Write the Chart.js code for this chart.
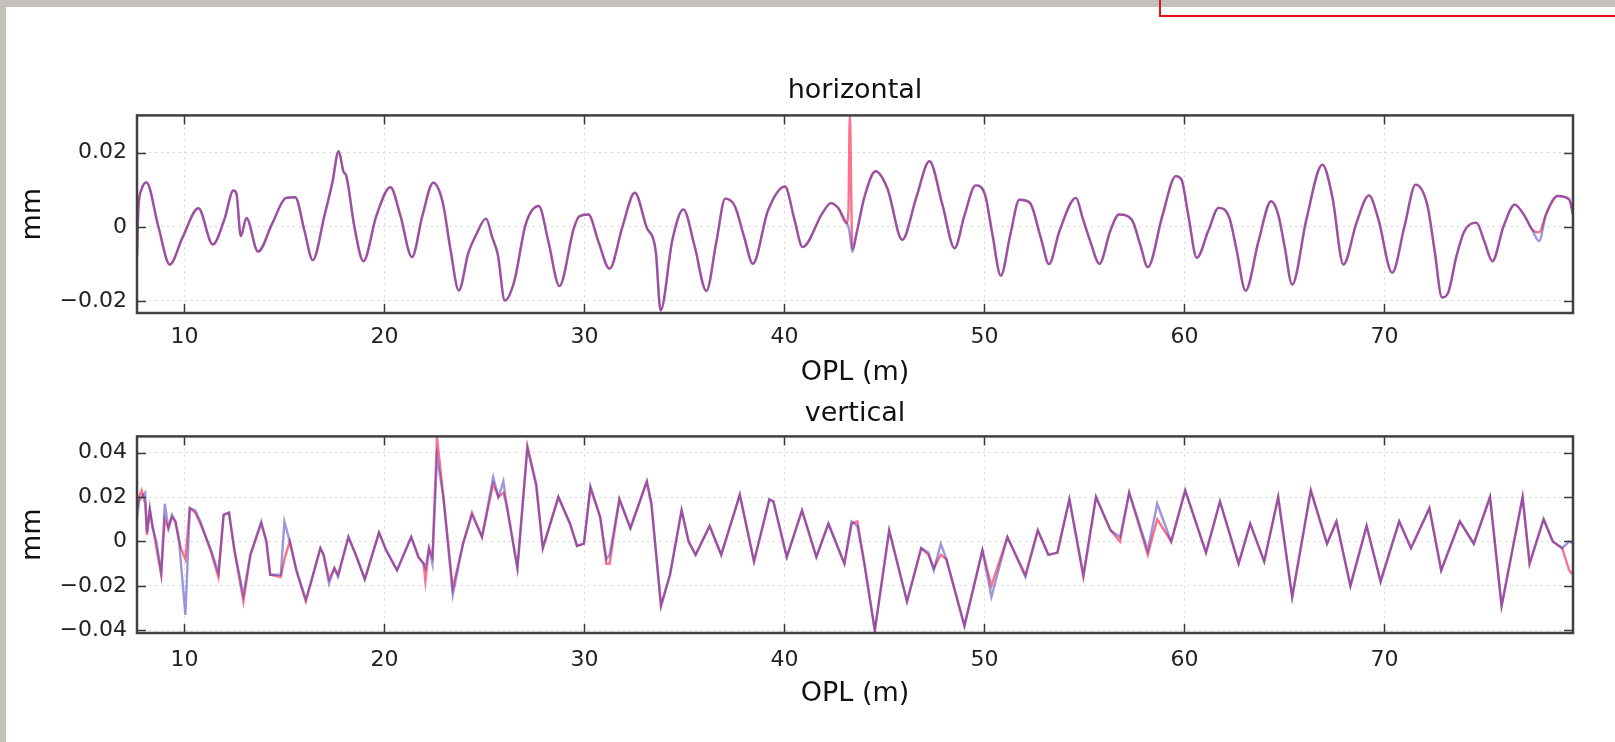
<!DOCTYPE html>
<html>
<head>
<meta charset="utf-8">
<title>OPL horizontal / vertical</title>
<script src="https://cdn.jsdelivr.net/npm/chart.js"></script>
<style>
  html, body { margin: 0; padding: 0; }
  body { width: 1615px; height: 742px; background: #c4c0bc; position: relative; overflow: hidden; }
  #sheet { position: absolute; left: 6px; top: 7px; right: 0; bottom: 0; background: #fff; }
  #red-box { position: absolute; left: 1159px; top: -4px; width: 470px; height: 17px; border: 2px solid #e8141c; }
  canvas { position: absolute; left: 0; }
  #h-chart { top: 0; }
  #v-chart { top: 390px; }
</style>
</head>
<body>
<div id="sheet"></div>
<div id="red-box"></div>
<canvas id="h-chart" width="1615" height="390"></canvas>
<canvas id="v-chart" width="1615" height="352"></canvas>
<script>
// axis ticks
const oplTicks = [10, 20, 30, 40, 50, 60, 70];
const hTicks = [-0.02, 0, 0.02];
const vTicks = [-0.04, -0.02, 0, 0.02, 0.04];

// horizontal: OPL (m) and the two traces (mm)
const hOpl = [7.63, 7.70, 7.85, 8.10, 8.70, 9.27, 9.90, 10.70, 11.42, 12.00, 12.45, 12.60, 12.82, 13.10, 13.68, 14.40,
  15.08, 15.54, 16.00, 16.42, 17.00, 17.40, 17.71, 17.95, 18.10, 18.50, 18.95, 19.60, 20.30, 20.80, 21.38, 21.90,
  22.44, 22.92, 23.30, 23.72, 24.20, 24.60, 25.08, 25.40, 25.67, 26.02, 26.50, 27.06, 27.72, 28.20, 28.75, 29.47,
  29.74, 30.20, 30.70, 31.26, 31.90, 32.52, 33.10, 33.57, 33.81, 34.40, 34.95, 35.50, 36.10, 36.60, 37.04, 37.52,
  38.00, 38.42, 39.18, 40.03, 40.50, 40.91, 41.90, 42.33, 42.70, 43.10, 43.20, 43.27, 43.40, 43.60, 44.00, 44.56,
  45.16, 45.89, 46.60, 47.25, 47.90, 48.51, 49.00, 49.56, 50.03, 50.40, 50.82, 51.30, 51.75, 52.27, 52.82, 53.23,
  53.75, 54.58, 54.91, 55.30, 55.75, 56.30, 56.73, 57.36, 57.80, 58.17, 58.90, 59.57, 59.85, 60.20, 60.62, 61.20,
  61.71, 62.25, 62.60, 63.06, 63.70, 64.34, 64.69, 65.00, 65.39, 66.10, 66.90, 67.40, 67.95, 68.60, 69.23, 69.70,
  70.39, 71.00, 71.56, 72.14, 72.50, 72.88, 73.19, 73.60, 74.00, 74.60, 75.00, 75.40, 75.95, 76.52, 77.00, 77.38,
  77.73, 78.08, 78.66, 79.24, 79.43];
const hBlue = [-0.0080, 0.0050, 0.0100, 0.0120, 0.0000, -0.0102, -0.0030, 0.0050, -0.0048, 0.0020, 0.0098, 0.0090, -0.0025, 0.0024, -0.0067, 0.0010,
  0.0078, 0.0080, -0.0010, -0.0090, 0.0030, 0.0120, 0.0204, 0.0150, 0.0137, 0.0000, -0.0093, 0.0030, 0.0107, 0.0030, -0.0082, 0.0030,
  0.0119, 0.0065, -0.0060, -0.0172, -0.0070, -0.0020, 0.0022, -0.0030, -0.0075, -0.0199, -0.0146, 0.0006, 0.0056, -0.0040, -0.0160, -0.0004,
  0.0028, 0.0033, -0.0040, -0.0113, 0.0000, 0.0092, 0.0000, -0.0068, -0.0226, -0.0035, 0.0047, -0.0050, -0.0173, -0.0040, 0.0076, 0.0056,
  -0.0030, -0.0100, 0.0044, 0.0109, 0.0020, -0.0055, 0.0037, 0.0064, 0.0050, 0.0010, 0.0000, -0.0020, -0.0068, -0.0020, 0.0080, 0.0150,
  0.0102, -0.0035, 0.0080, 0.0177, 0.0060, -0.0058, 0.0030, 0.0112, 0.0087, -0.0020, -0.0132, -0.0020, 0.0073, 0.0065, -0.0030, -0.0101,
  -0.0012, 0.0078, 0.0024, -0.0040, -0.0100, -0.0010, 0.0033, 0.0020, -0.0050, -0.0109, 0.0030, 0.0137, 0.0128, 0.0030, -0.0084, -0.0010,
  0.0051, 0.0024, -0.0060, -0.0173, -0.0040, 0.0069, 0.0033, -0.0050, -0.0156, 0.0020, 0.0168, 0.0080, -0.0102, 0.0010, 0.0085, 0.0020,
  -0.0124, 0.0000, 0.0114, 0.0060, -0.0060, -0.0191, -0.0178, -0.0080, -0.0012, 0.0011, -0.0040, -0.0093, 0.0000, 0.0060, 0.0030, -0.0007,
  -0.0039, 0.0033, 0.0083, 0.0074, 0.0033];
const hRed = [-0.0080, 0.0050, 0.0100, 0.0120, 0.0000, -0.0102, -0.0030, 0.0050, -0.0048, 0.0020, 0.0098, 0.0090, -0.0025, 0.0024, -0.0067, 0.0010,
  0.0078, 0.0080, -0.0010, -0.0090, 0.0030, 0.0120, 0.0204, 0.0150, 0.0137, 0.0000, -0.0093, 0.0030, 0.0107, 0.0030, -0.0082, 0.0030,
  0.0119, 0.0065, -0.0060, -0.0172, -0.0070, -0.0020, 0.0022, -0.0030, -0.0075, -0.0199, -0.0146, 0.0006, 0.0056, -0.0040, -0.0160, -0.0004,
  0.0028, 0.0033, -0.0040, -0.0113, 0.0000, 0.0092, 0.0000, -0.0068, -0.0226, -0.0035, 0.0047, -0.0050, -0.0173, -0.0040, 0.0076, 0.0056,
  -0.0030, -0.0100, 0.0044, 0.0109, 0.0020, -0.0055, 0.0037, 0.0064, 0.0050, 0.0010, 0.0040, 0.0300, -0.0060, -0.0020, 0.0080, 0.0150,
  0.0102, -0.0035, 0.0080, 0.0177, 0.0060, -0.0058, 0.0030, 0.0112, 0.0087, -0.0020, -0.0132, -0.0020, 0.0073, 0.0065, -0.0030, -0.0101,
  -0.0012, 0.0078, 0.0024, -0.0040, -0.0100, -0.0010, 0.0033, 0.0020, -0.0050, -0.0109, 0.0030, 0.0137, 0.0128, 0.0030, -0.0084, -0.0010,
  0.0051, 0.0024, -0.0060, -0.0173, -0.0040, 0.0069, 0.0033, -0.0050, -0.0156, 0.0020, 0.0168, 0.0080, -0.0102, 0.0010, 0.0085, 0.0020,
  -0.0124, 0.0000, 0.0114, 0.0060, -0.0060, -0.0191, -0.0178, -0.0080, -0.0012, 0.0011, -0.0040, -0.0093, 0.0000, 0.0060, 0.0030, -0.0007,
  -0.0015, 0.0033, 0.0083, 0.0074, 0.0033];

// vertical: OPL (m) and the two traces (mm)
const vOpl = [7.63, 7.73, 7.86, 8.04, 8.13, 8.27, 8.39, 8.60, 8.84, 9.02, 9.20, 9.38, 9.55, 9.73, 9.82, 10.05,
  10.27, 10.54, 10.80, 11.07, 11.34, 11.70, 11.96, 12.23, 12.50, 12.95, 13.30, 13.84, 14.10, 14.29, 14.82, 15.00,
  15.27, 15.60, 16.07, 16.34, 16.80, 16.96, 17.23, 17.50, 17.68, 18.20, 18.57, 19.02, 19.73, 20.09, 20.63, 21.34,
  21.70, 21.96, 22.05, 22.23, 22.40, 22.63, 22.95, 23.42, 23.93, 24.38, 24.88, 25.44, 25.70, 25.95, 26.15, 26.65,
  27.15, 27.59, 27.92, 28.70, 29.28, 29.63, 29.98, 30.30, 30.79, 31.10, 31.26, 31.75, 32.30, 33.12, 33.35, 33.83,
  34.28, 34.86, 35.21, 35.56, 36.26, 36.84, 37.77, 38.48, 39.25, 39.45, 40.12, 40.88, 41.60, 42.20, 43.00, 43.36,
  43.65, 44.00, 44.52, 45.24, 46.13, 46.84, 47.20, 47.47, 47.82, 48.10, 49.00, 49.90, 50.35, 51.15, 52.05, 52.67,
  53.20, 53.65, 54.25, 54.95, 55.58, 56.31, 56.78, 57.24, 58.17, 58.64, 59.34, 60.04, 61.08, 61.78, 62.71, 63.29,
  63.99, 64.69, 65.39, 66.32, 67.13, 67.60, 68.30, 69.11, 69.81, 70.74, 71.33, 72.25, 72.84, 73.77, 74.47, 75.28,
  75.86, 76.91, 77.26, 77.96, 78.42, 78.89, 79.24, 79.43];
const vBlue = [0.010, 0.018, 0.020, 0.022, 0.004, 0.015, 0.007, 0.000, -0.014, 0.017, 0.006, 0.012, 0.009, 0.000, -0.009, -0.033,
  0.015, 0.014, 0.009, 0.002, -0.004, -0.014, 0.012, 0.013, -0.004, -0.024, -0.006, 0.009, 0.000, -0.015, -0.015, 0.009,
  0.000, -0.013, -0.026, -0.018, -0.003, -0.006, -0.019, -0.012, -0.016, 0.002, -0.006, -0.017, 0.004, -0.004, -0.013, 0.002,
  -0.007, -0.010, -0.012, -0.003, -0.010, 0.038, 0.020, -0.024, -0.001, 0.012, 0.002, 0.029, 0.020, 0.027, 0.014, -0.012,
  0.042, 0.025, -0.003, 0.020, 0.008, -0.002, -0.001, 0.025, 0.011, -0.008, -0.006, 0.019, 0.006, 0.027, 0.017, -0.029,
  -0.015, 0.014, 0.000, -0.006, 0.007, -0.006, 0.021, -0.009, 0.019, 0.018, -0.007, 0.014, -0.007, 0.008, -0.010, 0.009,
  0.007, -0.010, -0.040, 0.005, -0.027, -0.003, -0.005, -0.013, -0.001, -0.008, -0.038, -0.004, -0.025, 0.002, -0.016, 0.005,
  -0.006, -0.005, 0.019, -0.015, 0.020, 0.005, 0.002, 0.022, -0.004, 0.017, 0.000, 0.023, -0.005, 0.018, -0.010, 0.008,
  -0.009, 0.020, -0.025, 0.023, -0.001, 0.009, -0.020, 0.007, -0.018, 0.009, -0.003, 0.015, -0.013, 0.009, -0.001, 0.020,
  -0.029, 0.020, -0.010, 0.010, 0.000, -0.003, 0.000, -0.001];
const vRed = [0.014, 0.020, 0.023, 0.017, 0.003, 0.014, 0.008, -0.003, -0.015, 0.010, 0.006, 0.011, 0.009, 0.001, -0.003, -0.008,
  0.015, 0.013, 0.008, 0.002, -0.005, -0.016, 0.012, 0.013, -0.004, -0.027, -0.006, 0.008, 0.000, -0.015, -0.016, -0.008,
  0.000, -0.013, -0.027, -0.018, -0.003, -0.006, -0.017, -0.012, -0.015, 0.002, -0.006, -0.017, 0.004, -0.004, -0.013, 0.002,
  -0.007, -0.010, -0.018, -0.003, -0.007, 0.047, 0.020, -0.021, -0.001, 0.013, 0.002, 0.026, 0.020, 0.022, 0.015, -0.012,
  0.043, 0.026, -0.003, 0.020, 0.008, -0.002, -0.001, 0.024, 0.011, -0.010, -0.010, 0.019, 0.006, 0.027, 0.017, -0.029,
  -0.015, 0.014, 0.000, -0.006, 0.007, -0.006, 0.021, -0.009, 0.019, 0.018, -0.007, 0.014, -0.007, 0.008, -0.010, 0.008,
  0.009, -0.010, -0.040, 0.005, -0.027, -0.003, -0.006, -0.012, -0.006, -0.008, -0.038, -0.004, -0.020, 0.002, -0.015, 0.005,
  -0.006, -0.005, 0.019, -0.016, 0.020, 0.005, 0.000, 0.022, -0.006, 0.010, 0.000, 0.023, -0.005, 0.018, -0.010, 0.008,
  -0.009, 0.020, -0.025, 0.023, -0.001, 0.009, -0.020, 0.007, -0.018, 0.009, -0.003, 0.015, -0.013, 0.009, -0.001, 0.020,
  -0.029, 0.020, -0.010, 0.010, 0.000, -0.003, -0.013, -0.015];

const FONT = '"DejaVu Sans", "Liberation Sans", sans-serif';
const RED = 'rgba(250, 60, 95, 0.72)';
const BLUE = 'rgba(55, 50, 190, 0.5)';

// matlab style box with inward ticks
const boxPlugin = {
  id: 'box',
  afterDatasetsDraw(chart) {
    const { ctx, chartArea: a, scales } = chart;
    ctx.save();
    ctx.strokeStyle = '#3a3a3a';
    ctx.lineWidth = 1.5;
    ctx.beginPath();
    scales.x.ticks.forEach(function(t) {
      const px = Math.round(scales.x.getPixelForValue(t.value)) + 0.5;
      ctx.moveTo(px, a.top); ctx.lineTo(px, a.top + 9);
      ctx.moveTo(px, a.bottom); ctx.lineTo(px, a.bottom - 9);
    });
    scales.y.ticks.forEach(function(t) {
      const py = Math.round(scales.y.getPixelForValue(t.value)) + 0.5;
      ctx.moveTo(a.left, py); ctx.lineTo(a.left + 9, py);
      ctx.moveTo(a.right, py); ctx.lineTo(a.right - 9, py);
    });
    ctx.stroke();
    ctx.lineWidth = 2.5;
    ctx.strokeStyle = '#404040';
    ctx.strokeRect(a.left, a.top, a.right - a.left, a.bottom - a.top);
    ctx.restore();
  }
};

function points(xs, ys) {
  return xs.map(function(x, i) { return { x: x, y: ys[i] }; });
}

function yLabel(v) {
  if (v === 0) return '0';
  return v.toFixed(2).replace('-', '\u2212');
}

function makeChart(id, s) {
  const ctx = document.getElementById(id).getContext('2d');
  const mode = s.smooth ? 'monotone' : 'default';
  return new Chart(ctx, {
    type: 'line',
    data: {
      datasets: [
        // blue drawn over red, so the overlap reads purple
        { data: points(s.opl, s.blue), borderColor: BLUE, borderWidth: 2.4, pointRadius: 0,
          cubicInterpolationMode: mode, tension: 0 },
        { data: points(s.opl, s.red), borderColor: RED, borderWidth: 2.4, pointRadius: 0,
          cubicInterpolationMode: mode, tension: 0 }
      ]
    },
    options: {
      responsive: false,
      animation: false,
      devicePixelRatio: 1,
      layout: { padding: { left: 0, right: 42, top: 0, bottom: 0 } },
      plugins: {
        legend: { display: false },
        tooltip: { enabled: false },
        title: {
          display: true,
          text: s.title,
          fullSize: false,
          color: '#111',
          font: { family: FONT, size: 27, weight: 'normal' },
          padding: { top: s.titleTop, bottom: s.titleBottom }
        }
      },
      scales: {
        x: {
          type: 'linear',
          min: 7.63,
          max: 79.43,
          afterFit: function(scale) { scale.height = s.xHeight; },
          afterBuildTicks: function(scale) { scale.ticks = oplTicks.map(function(v) { return { value: v }; }); },
          grid: { color: '#d6d6d6', lineWidth: 1, drawTicks: false },
          border: { display: false, dash: [2, 4] },
          ticks: { color: '#222', padding: s.xTickPad, font: { family: FONT, size: 22 }, maxRotation: 0,
            callback: function(v) { return String(v); } },
          title: { display: true, text: 'OPL (m)', color: '#111', font: { family: FONT, size: 27 },
            padding: { top: 0, bottom: s.xTitleBottom } }
        },
        y: {
          min: s.yMin,
          max: s.yMax,
          afterFit: function(scale) { scale.width = 137; },
          afterBuildTicks: function(scale) { scale.ticks = s.yTicks.map(function(v) { return { value: v }; }); },
          grid: { color: '#d6d6d6', lineWidth: 1, drawTicks: false },
          border: { display: false, dash: [2, 4] },
          ticks: { color: '#222', padding: 10, font: { family: FONT, size: 22 }, callback: yLabel },
          title: { display: true, text: 'mm', color: '#111', font: { family: FONT, size: 27 },
            padding: { top: 17, bottom: 0 } }
        }
      }
    },
    plugins: [boxPlugin]
  });
}

makeChart('h-chart', {
  title: 'horizontal', opl: hOpl, red: hRed, blue: hBlue, smooth: true,
  yMin: -0.0233, yMax: 0.0301, yTicks: hTicks,
  titleTop: 75, titleBottom: 8, xHeight: 77, xTickPad: 11, xTitleBottom: 1
});

makeChart('v-chart', {
  title: 'vertical', opl: vOpl, red: vRed, blue: vBlue, smooth: false,
  yMin: -0.0412, yMax: 0.0473, yTicks: vTicks,
  titleTop: 8, titleBottom: 6, xHeight: 109, xTickPad: 14, xTitleBottom: 32
});
</script>
</body>
</html>
